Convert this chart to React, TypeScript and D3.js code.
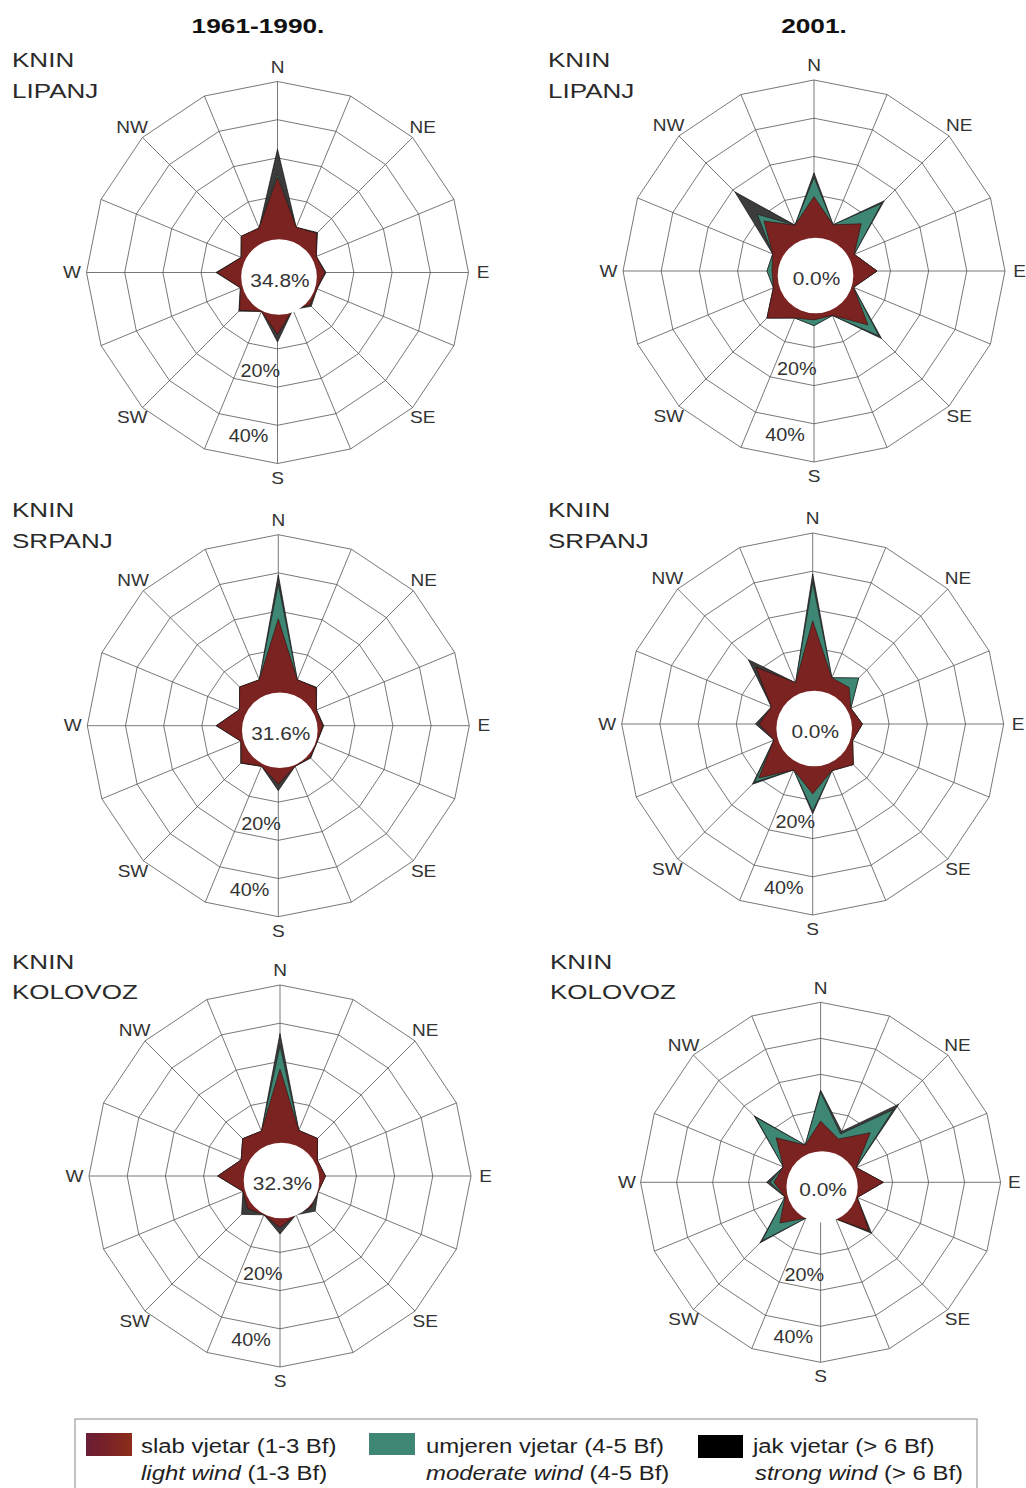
import React from "react";
import * as d3 from "d3";

// ---------- data ----------
const DIRS = ["N","NNE","NE","ENE","E","ESE","SE","SSE","S","SSW","SW","WSW","W","WNW","NW","NNW"];
const LABEL_DIRS = ["N","NE","E","SE","S","SW","W","NW"];
const RING_VALUES = [0, 10, 20, 30, 40];
const RING_LABELS = [20, 40];
const PERIODS = ["1961-1990.", "2001."];
const STATION = "KNIN";
const MONTHS = ["LIPANJ", "SRPANJ", "KOLOVOZ"];
const CALMS = ["34.8%", "0.0%", "31.6%", "0.0%", "32.3%", "0.0%"];

// percentages per direction (N, NNE, ... NNW)
const light1 = [15, 2.8, 4.5, 1, 2.4, 1.2, 2, 0.5, 6.2, 1, 4, 0.5, 5.8, 0.3, 3.4, 2.6];
const moderate1 = [0.8, 0, 0, 0, 0, 0, 0, 0, 0, 0, 0, 0, 0, 0, 0, 0];
const strong1 = [6.5, 0, 0.3, 0, 0.3, 0, 0.5, 0, 2, 0, 0.3, 0, 0.3, 0, 0, 0];

const light2 = [9.5, 3.1, 7.5, 1.4, 6.5, 1.2, 10, 2.6, 2.8, 3.3, 7.4, 1.5, 1, 1.7, 8.5, 3];
const moderate2 = [5, 0, 7.5, 0, 0, 0, 4, 0, 1.5, 0, 0, 0, 1.3, 0, 2.5, 0];
const strong2 = [1.2, 0, 1, 0, 0, 0, 1, 0, 0, 0, 0, 0, 0, 0, 8.3, 0];

const light3 = [18, 3, 4, 0.8, 1.7, 1, 1.8, 1.5, 5.3, 1.5, 3.7, 0.6, 6.1, 1, 4.3, 3];
const moderate3 = [9, 0, 0, 0, 0, 0, 0, 0, 0, 0, 0, 0, 0, 0, 0, 0];
const strong3 = [2.5, 0, 0.2, 0, 0.2, 0, 0.2, 0, 1.7, 0, 0.2, 0, 0.2, 0, 0, 0];

const light4 = [17, 3.1, 3.5, 0.8, 3, 1.3, 5, 3.2, 8.3, 3, 10, 1, 4, 1.7, 11, 1.7];
const moderate4 = [10, 0, 3.5, 0, 0, 0, 0, 0, 4.5, 0, 1.5, 0, 0, 0, 0, 0];
const strong4 = [2.3, 0, 0, 0, 0, 0, 0, 0, 0.7, 0, 0.8, 0, 1, 0, 2.8, 0];

const light5 = [18, 2.9, 3.9, 0.6, 1.9, 0.8, 1.5, 1, 3.5, 1, 2, 0.5, 6.3, 1, 3.8, 2.7];
const moderate5 = [6, 0, 0, 0, 0, 0, 0, 0, 0, 0, 0, 0, 0, 0, 0, 0];
const strong5 = [3.3, 0, 0, 0, 0, 0, 1.5, 0, 1.7, 0, 2.2, 0, 0, 0, 0, 0];

const light6 = [7, 3, 9.5, 0.7, 7.4, 1, 9, 1, 0.5, 0.8, 6, 0.7, 3, 1.2, 7.5, 1.2];
const moderate6 = [8, 1.5, 9, 0, 0, 0, 0, 0, 0, 0, 7, 0, 1, 0, 8, 0];
const strong6 = [0.6, 0.8, 2.2, 0, 0, 0, 1, 0, 0, 0, 0.8, 0, 1, 0, 0.6, 0];

const LEGEND_HR = ["slab vjetar (1-3 Bf)", "umjeren vjetar (4-5 Bf)", "jak vjetar (> 6 Bf)"];
const LEGEND_EN = ["light wind", "moderate wind", "strong wind"];
const LEGEND_EN_SUFFIX = [" (1-3 Bf)", " (4-5 Bf)", " (> 6 Bf)"];

// ---------- style ----------
const C_LIGHT = "#7a2321";
const C_MOD = "#3f8775";
const C_STRONG = "#3c3c3c";
const FONT = "'Liberation Sans', Arial, Helvetica, sans-serif";
const TXT = "#2a2a2a";

const ROSES = [
  { cx: 277.5, cy: 272.5, s: 38.2, L: light1, M: moderate1, S: strong1, lx: 12, ly: 67 },
  { cx: 814, cy: 271, s: 38.2, L: light2, M: moderate2, S: strong2, lx: 548, ly: 67 },
  { cx: 278.3, cy: 725.7, s: 38.2, L: light3, M: moderate3, S: strong3, lx: 12, ly: 517 },
  { cx: 812.7, cy: 724, s: 38.2, L: light4, M: moderate4, S: strong4, lx: 548, ly: 517 },
  { cx: 280, cy: 1176, s: 38.2, L: light5, M: moderate5, S: strong5, lx: 12, ly: 968.5 },
  { cx: 820.6, cy: 1182.3, s: 36, L: light6, M: moderate6, S: strong6, lx: 550, ly: 968.5 },
];

const STEP = (2 * Math.PI) / DIRS.length;

function SText({ x, y, sx = 1, size, anchor = "start", weight = "normal", baseline = "auto", children, fill = TXT }: any) {
  return (
    <text
      transform={`translate(${x},${y}) scale(${sx},1)`}
      fontSize={size}
      fontFamily={FONT}
      fontWeight={weight}
      textAnchor={anchor}
      dominantBaseline={baseline}
      fill={fill}
    >
      {children}
    </text>
  );
}

function Rose({ cx, cy, s, L, M, S, calm, month, lx, ly }: any) {
  const r = d3.scaleLinear().domain([0, 40]).range([s, 5 * s]);
  const total = L.map((v: number, i: number) => v + M[i] + S[i]);
  const lm = L.map((v: number, i: number) => v + M[i]);
  const line = d3
    .lineRadial<number>()
    .angle((_d, i) => i * STEP)
    .radius((d) => r(d))
    .curve(d3.curveLinearClosed);
  const ring = (v: number) => line(DIRS.map(() => v)) as string;
  const outer = r(40);
  const k = s / 38.2;
  return (
    <g>
      <SText x={lx} y={ly} sx={1.24} size={21}>{STATION}</SText>
      <SText x={lx} y={ly + 30.5} sx={1.24} size={21}>{month}</SText>
      <g transform={`translate(${cx},${cy})`}>
        {RING_VALUES.map((v) => (
          <path key={v} d={ring(v)} fill="none" stroke="#555" strokeWidth={0.8} />
        ))}
        {DIRS.map((d, i) => {
          const [x, y] = d3.pointRadial(i * STEP, outer);
          return <line key={d} x1={0} y1={0} x2={x} y2={y} stroke="#555" strokeWidth={0.8} />;
        })}
        <path d={line(total) as string} fill={C_STRONG} stroke="#111" strokeWidth={0.7} />
        <path d={line(lm) as string} fill={C_MOD} stroke="#1d1d1d" strokeWidth={0.6} />
        <path d={line(L) as string} fill={C_LIGHT} stroke="#2a1010" strokeWidth={0.6} />
        <circle cx={1.5} cy={4.5} r={s * 0.99} fill="#fff" />
        <SText x={2.5} y={7.5} sx={1.1} size={19} anchor="middle" baseline="central" fill="#333">{calm}</SText>
        {LABEL_DIRS.map((d) => {
          const i = DIRS.indexOf(d);
          const [x, y] = d3.pointRadial(i * STEP, outer + 14.5 * k);
          return (
            <SText key={d} x={x} y={y} sx={1.12} size={17} anchor="middle" baseline="central" fill="#333">
              {d}
            </SText>
          );
        })}
        {RING_LABELS.map((v) => {
          const [x, y] = d3.pointRadial((190 * Math.PI) / 180, r(v) * 0.87);
          return (
            <SText key={v} x={x} y={y} sx={1.1} size={18} anchor="middle" baseline="central" fill="#333">
              {v}%
            </SText>
          );
        })}
      </g>
    </g>
  );
}

export default function App() {
  const W = 1026;
  const H = 1488;
  const legendX = [86, 369, 698];
  const textX = [141, 426, 753];
  return (
    <div style={{ position: "absolute", left: 0, top: 0 }}>
      <svg width={W} height={H} viewBox={`0 0 ${W} ${H}`} style={{ display: "block", background: "#fff" }}>
        <defs>
          <linearGradient id="lg-light" x1="0" x2="1" y1="0" y2="0">
            <stop offset="0" stopColor="#6a1d36" />
            <stop offset="0.5" stopColor="#7a2226" />
            <stop offset="1" stopColor="#8c2e1a" />
          </linearGradient>
        </defs>
        <rect x={0} y={0} width={W} height={H} fill="#fff" />
        <SText x={258} y={33} sx={1.25} size={21} weight="bold" anchor="middle" fill="#111">{PERIODS[0]}</SText>
        <SText x={814} y={33} sx={1.25} size={21} weight="bold" anchor="middle" fill="#111">{PERIODS[1]}</SText>
        {ROSES.map((ro, k) => (
          <g key={k}>
            <Rose {...ro} calm={CALMS[k]} month={MONTHS[Math.floor(k / 2)]} />
          </g>
        ))}
        <rect x={75} y={1419} width={902} height={90} fill="none" stroke="#888" strokeWidth={1} />
        <rect x={legendX[0]} y={1433} width={46} height={23} fill="url(#lg-light)" />
        <rect x={legendX[1]} y={1433} width={46} height={22} fill={C_MOD} />
        <rect x={legendX[2]} y={1435} width={45} height={23} fill="#000" />
        {LEGEND_HR.map((t, i) => (
          <SText key={"hr" + i} x={textX[i]} y={1453} sx={1.14} size={21} fill="#222">{t}</SText>
        ))}
        {LEGEND_EN.map((t, i) => (
          <text
            key={"en" + i}
            transform={`translate(${textX[i] + (i === 2 ? 2 : 0)},1480) scale(1.14,1)`}
            fontSize={21}
            fontFamily={FONT}
            fill="#222"
          >
            <tspan fontStyle="italic">{t}</tspan>
            <tspan>{LEGEND_EN_SUFFIX[i]}</tspan>
          </text>
        ))}
      </svg>
    </div>
  );
}
